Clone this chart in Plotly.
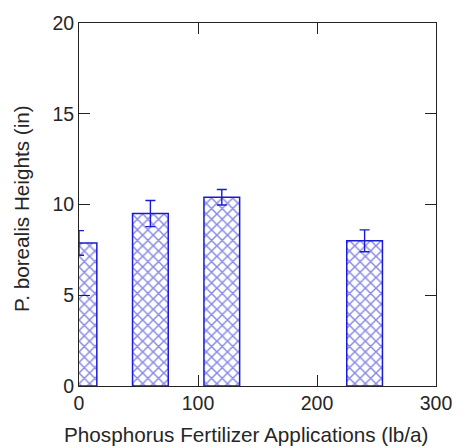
import plotly.graph_objects as go

# Phosphorus application rates (lb/a) and mean plant heights (in)
rates = [0, 60, 120, 240]
heights = [7.88, 9.5, 10.4, 8.0]
errors = [0.68, 0.72, 0.43, 0.6]

x_ticks = [0, 100, 200, 300]
y_ticks = [0, 5, 10, 15, 20]

blue = "#1a1ad6"
hatch_blue = "#1414c8"
font_family = "Liberation Sans, Arial, sans-serif"
text_color = "#262626"

fig = go.Figure(
    go.Bar(
        x=rates,
        y=heights,
        width=30,
        marker=dict(
            color="white",
            line=dict(color=blue, width=1.5),
            pattern=dict(shape="x", fgcolor=hatch_blue, bgcolor="white", size=7.5, solidity=0.36),
        ),
        error_y=dict(type="data", array=errors, color=blue, thickness=1.4, width=5),
    )
)

axis_common = dict(
    showgrid=False,
    zeroline=False,
    showline=True,
    linecolor="#222222",
    linewidth=1,
    mirror="ticks",
    ticks="inside",
    ticklen=11,
    tickwidth=1,
    tickcolor="#222222",
    tickfont=dict(family=font_family, size=19.5, color=text_color),
)

fig.update_xaxes(range=[0, 300], tickvals=x_ticks, **axis_common)
fig.update_yaxes(range=[0, 20], tickvals=y_ticks, **axis_common)

fig.update_layout(
    width=464,
    height=447,
    margin=dict(l=79, r=17.5, t=21.5, b=60.5),
    plot_bgcolor="white",
    paper_bgcolor="white",
    showlegend=False,
    annotations=[
        dict(
            text="Phosphorus Fertilizer Applications (lb/a)",
            xref="paper", yref="paper",
            x=0.468, y=-0.133,
            xanchor="center", yanchor="middle",
            showarrow=False,
            font=dict(family=font_family, size=20.7, color=text_color),
        ),
        dict(
            text="P. borealis Heights (in)",
            xref="paper", yref="paper",
            x=-0.163, y=0.49,
            xanchor="center", yanchor="middle",
            textangle=-90,
            showarrow=False,
            font=dict(family=font_family, size=20.7, color=text_color),
        ),
    ],
)

fig.write_html("out.html")
